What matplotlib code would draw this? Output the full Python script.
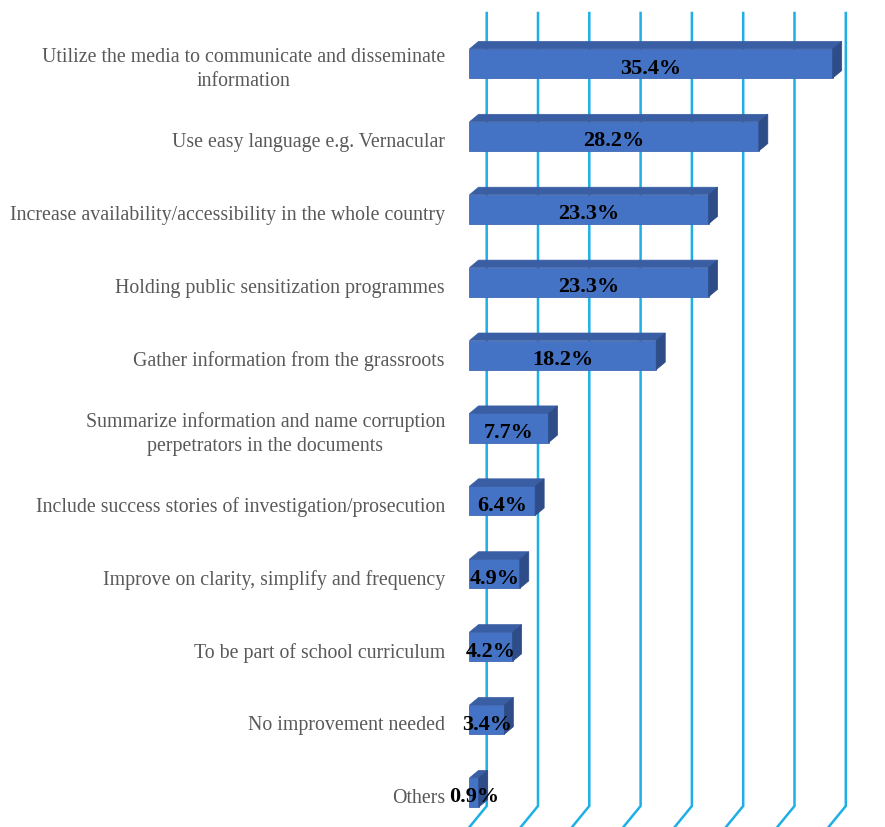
import matplotlib
matplotlib.use('Agg')
import matplotlib.pyplot as plt
from matplotlib.patches import Polygon

categories = [
    'Utilize the media to communicate and disseminate\ninformation',
    'Use easy language e.g. Vernacular',
    'Increase availability/accessibility in the whole country',
    'Holding public sensitization programmes',
    'Gather information from the grassroots',
    'Summarize information and name corruption\nperpetrators in the documents',
    'Include success stories of investigation/prosecution',
    'Improve on clarity, simplify and frequency',
    'To be part of school curriculum',
    'No improvement needed',
    'Others',
]
values = [35.4, 28.2, 23.3, 23.3, 18.2, 7.7, 6.4, 4.9, 4.2, 3.4, 0.9]
grid_ticks = [0, 5, 10, 15, 20, 25, 30, 35]

# layout in pixels
W, H = 885, 828
X0 = 469.5          # where 0% sits on the front plane
PX_PER_PCT = 10.26
ROW_PX = 72.9
TOP_PX = 64.5       # centre of the first bar
BAR_H = 0.40

FRONT = '#4472C4'
TOP = '#3A5EA3'
SIDE = '#2D4C88'
GRID = '#1DAFE6'
LABEL = '#595959'

fig = plt.figure(figsize=(W / 100, H / 100), dpi=100)
ax = fig.add_axes([0, 0, 1, 1])
ax.set_xlim(-X0 / PX_PER_PCT, (W - X0) / PX_PER_PCT)
ax.set_ylim((H - TOP_PX) / ROW_PX, -TOP_PX / ROW_PX)
ax.axis('off')


def px_x(p):
    return p / PX_PER_PCT


def px_y(p):
    return p / ROW_PX


# back wall gridlines with the floor slant at the bottom
g_dx = px_x(17.2)
y_top = px_y(14 - TOP_PX)
y_turn = px_y(807 - TOP_PX)
y_floor = px_y(828 - TOP_PX)
for t in grid_ticks:
    ax.plot([t + g_dx, t + g_dx, t], [y_top, y_turn, y_floor],
            color=GRID, lw=1.8, solid_joinstyle='miter', zorder=1)

# 3d bars: front face, top face, right side
b_dx = px_x(9)
b_dy = px_y(7.5)
ax.barh(range(len(values)), values, height=BAR_H, left=0, color=FRONT,
        edgecolor='#3F69B5', linewidth=0.6, zorder=3)
for i, v in enumerate(values):
    top = i - BAR_H / 2
    bot = i + BAR_H / 2
    ax.add_patch(Polygon([(0, top), (v, top), (v + b_dx, top - b_dy), (b_dx, top - b_dy)],
                         closed=True, facecolor=TOP, edgecolor=TOP, lw=0.5, zorder=3))
    ax.add_patch(Polygon([(v, top), (v + b_dx, top - b_dy), (v + b_dx, bot - b_dy), (v, bot)],
                         closed=True, facecolor=SIDE, edgecolor=SIDE, lw=0.5, zorder=3))
    ax.text(v / 2, i + px_y(4), f'{v:.1f}%', ha='center', va='center',
            fontsize=16, fontweight='bold', family='Liberation Serif',
            color='black', zorder=5)
    ax.text(px_x(445 - X0), i + px_y(5), categories[i], ha='right', va='center',
            multialignment='center', fontsize=14.3, family='Liberation Serif',
            color=LABEL, linespacing=1.3, zorder=5)

fig.savefig('out.png', dpi=100)
